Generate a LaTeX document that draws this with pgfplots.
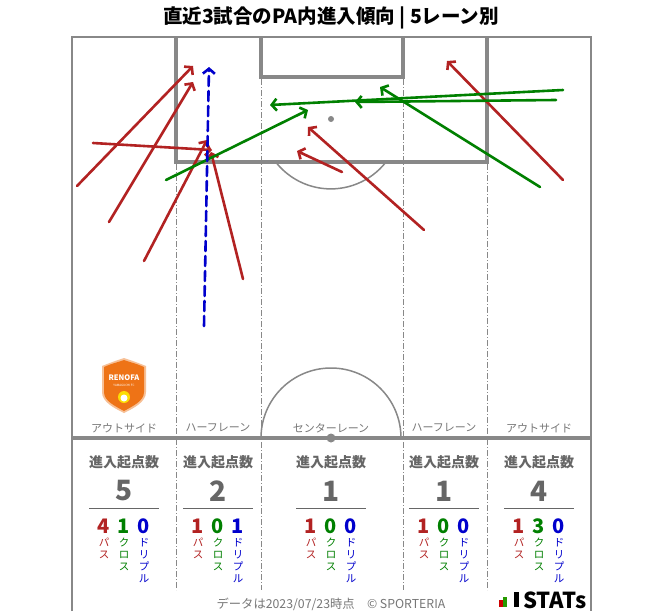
\documentclass[border=0pt]{standalone}
\usepackage{fontspec}
\setmainfont{Noto Sans CJK JP}
\usepackage{pgfplots}
\pgfplotsset{compat=1.18}
\usetikzlibrary{arrows.meta}

\definecolor{pgray}{HTML}{888888}
\definecolor{tgray}{HTML}{666666}
\definecolor{lgray}{HTML}{777777}
\definecolor{cpass}{HTML}{B22222}
\definecolor{ccross}{HTML}{008000}
\definecolor{cdrib}{HTML}{0000CC}
\definecolor{renofa}{HTML}{EE7316}

% one lane's tally: x, total, pass, cross, dribble
\newcommand{\lanestat}[5]{%
  \node[tgray, font=\fontsize{14}{15}\selectfont\bfseries] at (axis cs:#1,462) {進入起点数};
  \node[tgray, font=\fontsize{28}{29}\selectfont\bfseries] at (axis cs:#1,491) {#2};
  \draw[tgray, line width=1pt] ([xshift=-35pt]axis cs:#1,508) -- ([xshift=35pt]axis cs:#1,508);
  \node[cpass, inner sep=0pt, font=\fontsize{20}{21}\selectfont\bfseries] at ([xshift=-20pt]axis cs:#1,526) {#3};
  \node[ccross, inner sep=0pt, font=\fontsize{20}{21}\selectfont\bfseries] at (axis cs:#1,526) {#4};
  \node[cdrib, inner sep=0pt, font=\fontsize{20}{21}\selectfont\bfseries] at ([xshift=20pt]axis cs:#1,526) {#5};
  \node[cpass, font=\fontsize{10.5}{12}\selectfont, align=center, anchor=north, inner sep=0pt] at ([xshift=-20pt]axis cs:#1,538) {パ\\ス};
  \node[ccross, font=\fontsize{10.5}{12}\selectfont, align=center, anchor=north, inner sep=0pt] at (axis cs:#1,538) {ク\\ロ\\ス};
  \node[cdrib, font=\fontsize{10.5}{12}\selectfont, align=center, anchor=north, inner sep=0pt] at ([xshift=20pt]axis cs:#1,538) {ド\\リ\\プ\\ル};
}
\newcommand{\laneline}[2]{%
  \draw[pgray, line width=0.9pt, dash pattern=on 6pt off 2pt on 1pt off 2pt] (axis cs:#1,#2) -- (axis cs:#1,590);
}
\newcommand{\lanelabel}[2]{%
  \node[lgray, font=\fontsize{11}{12}\selectfont] at (axis cs:#1,428) {#2};
}

\begin{document}
\begin{tikzpicture}
\begin{axis}[
  width=663pt, height=611pt, scale only axis,
  xmin=0, xmax=663, ymin=0, ymax=611, y dir=reverse,
  hide axis, clip=false,
  every axis plot/.append style={line width=2.6pt, line cap=round},
  pass/.style={cpass, -{Straight Barb[length=5pt, width=12pt]}},
  cross/.style={ccross, -{Straight Barb[length=5pt, width=12pt]}},
  drib/.style={cdrib, dash pattern=on 10pt off 5pt, -{Straight Barb[length=5pt, width=12pt]}},
]
% background and pitch
\fill[white] (axis cs:0,0) rectangle (axis cs:663,611);
\draw[pgray, line width=2.5pt] (axis cs:72,611) -- (axis cs:72,37) -- (axis cs:591,37) -- (axis cs:591,611);
\draw[pgray, line width=4pt] (axis cs:176,37) -- (axis cs:176,162) -- (axis cs:487,162) -- (axis cs:487,37);
\draw[pgray, line width=4pt] (axis cs:261,37) -- (axis cs:261,77) -- (axis cs:403,77) -- (axis cs:403,37);
\draw[pgray, line width=1.5pt] (axis cs:386,162) arc[start angle=-38, end angle=-142, radius=70pt];
\draw[pgray, line width=1.5pt] (axis cs:261,438) arc[start angle=180, end angle=0, radius=70pt];
\draw[pgray, line width=4.5pt] (axis cs:72,438) -- (axis cs:591,438);
\fill[pgray] (axis cs:331,119) circle[radius=3pt];
\fill[pgray] (axis cs:331,438) circle[radius=4.5pt];
\laneline{176}{164}
\laneline{261}{79}
\laneline{403}{79}
\laneline{487}{164}

% lane labels
\lanelabel{124}{アウトサイド}
\lanelabel{218}{ハーフレーン}
\lanelabel{331}{センターレーン}
\lanelabel{444}{ハーフレーン}
\lanelabel{539}{アウトサイド}

% passes
\addplot[pass] coordinates {(77,186) (193,66)};
\addplot[pass] coordinates {(109,222) (193,82)};
\addplot[pass] coordinates {(93,143) (212,150)};
\addplot[pass] coordinates {(144,261) (207,140)};
\addplot[pass] coordinates {(243,279) (211,152)};
\addplot[pass] coordinates {(342,172) (297,151)};
\addplot[pass] coordinates {(424,230) (308,127)};
\addplot[pass] coordinates {(563,180) (447,61)};
% crosses
\addplot[cross] coordinates {(166,180) (308,110)};
\addplot[cross] coordinates {(563,90) (270,105)};
\addplot[cross] coordinates {(556,100) (355,102)};
\addplot[cross] coordinates {(540,187) (380,87)};
% dribble
\addplot[drib] coordinates {(204,326) (209,67)};

% tallies
\lanestat{124}{5}{4}{1}{0}
\lanestat{218}{2}{1}{0}{1}
\lanestat{331}{1}{1}{0}{0}
\lanestat{444}{1}{1}{0}{0}
\lanestat{539}{4}{1}{3}{0}

% club badge
\fill[renofa!45] (axis cs:102,366) .. controls (axis cs:112,362) and (axis cs:118,360) .. (axis cs:124,358)
  .. controls (axis cs:130,360) and (axis cs:136,362) .. (axis cs:146,366)
  -- (axis cs:146,392) .. controls (axis cs:146,402) and (axis cs:134,408) .. (axis cs:124,413)
  .. controls (axis cs:114,408) and (axis cs:102,402) .. (axis cs:102,392) -- cycle;
\fill[renofa] (axis cs:104,367) .. controls (axis cs:113,363) and (axis cs:119,362) .. (axis cs:124,360)
  .. controls (axis cs:129,362) and (axis cs:135,363) .. (axis cs:144,367)
  -- (axis cs:144,392) .. controls (axis cs:144,401) and (axis cs:133,406) .. (axis cs:124,411)
  .. controls (axis cs:115,406) and (axis cs:104,401) .. (axis cs:104,392) -- cycle;
\node[white, font=\fontsize{7.5}{8}\selectfont\bfseries, inner sep=0pt] at (axis cs:124,378) {RENOFA};
\node[white, font=\fontsize{3}{3}\selectfont, inner sep=0pt] at (axis cs:124,385) {YAMAGUCHI FC};
\fill[yellow!80!orange] (axis cs:124,397) circle[radius=6pt];
\fill[white] (axis cs:124,398) circle[radius=3.5pt];

% footer
\node[lgray, font=\fontsize{12.3}{13}\selectfont] at (axis cs:331,604) {データは2023/07/23時点\quad © SPORTERIA};
\fill[red!80!black] (axis cs:499,600) rectangle (axis cs:503,607);
\fill[ccross!80!lime] (axis cs:503,597) rectangle (axis cs:507,607);
\fill[black] (axis cs:514,592) rectangle (axis cs:519,607);
\node[black, anchor=west, inner sep=0pt, font=\fontsize{22}{23}\selectfont\bfseries] at (axis cs:523,600) {STATs};

% title
\node[font=\fontsize{19.5}{21}\selectfont\bfseries] at (axis cs:331,18) {直近3試合のPA内進入傾向 | 5レーン別};
\end{axis}
\end{tikzpicture}
\end{document}
